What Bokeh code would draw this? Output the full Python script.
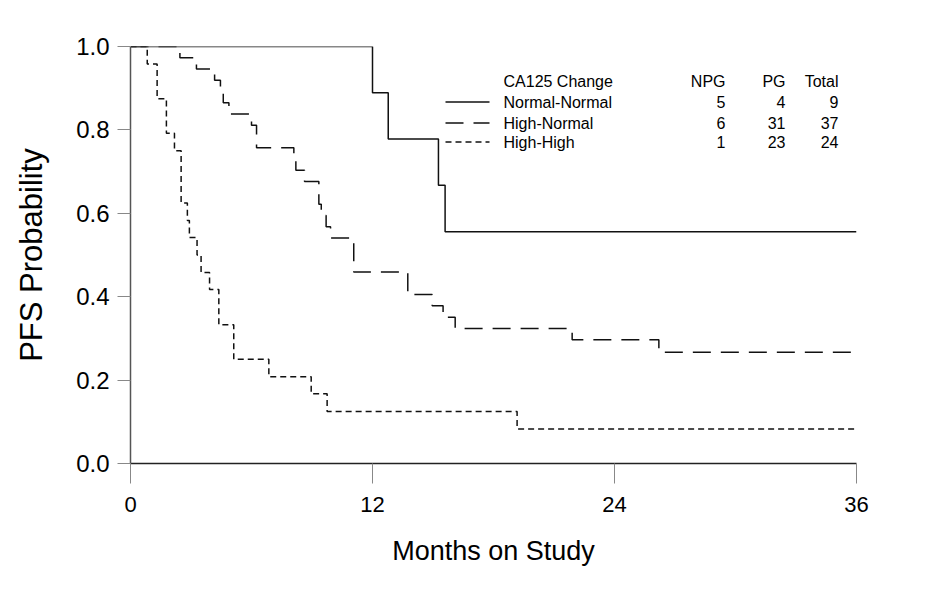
from bokeh.plotting import figure
from bokeh.models import Range1d, FixedTicker
from bokeh.core.properties import value
from bokeh.embed import file_html
from bokeh.resources import INLINE

# ---- data (Kaplan-Meier step curves) ----
nn_time = [0.0, 12.0, 12.78, 15.27, 15.6]
nn_surv = [1.0, 0.889, 0.778, 0.667, 0.556]

hn_time = [0.0, 2.45, 3.27, 4.17, 4.46, 4.6, 4.88, 6.0, 6.25, 8.1, 8.2, 8.63,
           9.34, 9.46, 9.7, 9.92, 11.07, 13.75, 14.96, 15.5, 16.1, 21.9, 26.2]
hn_surv = [1.0, 0.973, 0.946, 0.919, 0.892, 0.865, 0.838, 0.811, 0.757, 0.730,
           0.703, 0.676, 0.622, 0.595, 0.568, 0.541, 0.459, 0.405, 0.378, 0.351,
           0.324, 0.297, 0.267]

hh_time = [0.0, 0.83, 1.32, 1.78, 2.18, 2.51, 2.82, 2.92, 3.3, 3.5, 3.92, 4.38,
           5.12, 6.86, 8.96, 9.75, 19.17]
hh_surv = [1.0, 0.958, 0.875, 0.792, 0.750, 0.625, 0.583, 0.542, 0.500, 0.458,
           0.417, 0.333, 0.250, 0.208, 0.167, 0.125, 0.083]

end_time = 36

groups = ["Normal-Normal", "High-Normal", "High-High"]
npg = ["5", "6", "1"]
pg = ["4", "31", "23"]
total = ["9", "37", "24"]
header = ["CA125 Change", "NPG", "PG", "Total"]

x_ticks = [0, 12, 24, 36]
y_ticks = [0.0, 0.2, 0.4, 0.6, 0.8, 1.0]

# ---- layout ----
FL, FT, FW, FH = 130, 46, 726, 417   # frame in canvas px
W, H = 913, 584

p = figure(width=W, height=H, frame_width=FW, frame_height=FH,
           min_border_left=FL, min_border_top=FT,
           min_border_right=W - FL - FW, min_border_bottom=H - FT - FH,
           x_range=Range1d(0, end_time), y_range=Range1d(0, 1.0),
           output_backend="svg", toolbar_location=None)
p.outline_line_color = None
p.xgrid.visible = False
p.ygrid.visible = False
p.background_fill_color = "white"
p.border_fill_color = "white"

SANS = "Liberation Sans"

# axes
p.xaxis.ticker = FixedTicker(ticks=x_ticks)
p.xaxis.major_label_overrides = {t: str(t) for t in x_ticks}
p.xaxis.minor_tick_line_color = None
p.xaxis.major_tick_out = 20
p.xaxis.major_tick_in = 0
p.xaxis.major_tick_line_color = "#888888"
p.xaxis.axis_line_color = "#222222"
p.xaxis.axis_line_width = 1.5
p.xaxis.major_label_text_font = SANS
p.xaxis.major_label_text_font_size = "22px"
p.xaxis.major_label_text_color = "black"
p.xaxis.major_label_standoff = 13
p.xaxis.axis_label = "Months on Study"
p.xaxis.axis_label_text_font = SANS
p.xaxis.axis_label_text_font_size = "27px"
p.xaxis.axis_label_text_font_style = "normal"
p.xaxis.axis_label_text_color = "black"
p.xaxis.axis_label_standoff = 21

p.yaxis.ticker = FixedTicker(ticks=y_ticks)
p.yaxis.major_label_overrides = {t: f"{t:.1f}" for t in y_ticks}
p.yaxis.minor_tick_line_color = None
p.yaxis.major_tick_out = 13
p.yaxis.major_tick_in = 0
p.yaxis.major_tick_line_color = "#888888"
p.yaxis.axis_line_color = "#555555"
p.yaxis.axis_line_width = 1.5
p.yaxis.major_label_text_font = SANS
p.yaxis.major_label_text_font_size = "24px"
p.yaxis.major_label_text_color = "black"
p.yaxis.major_label_standoff = 8
p.yaxis.axis_label = "PFS Probability"
p.yaxis.axis_label_text_font = SANS
p.yaxis.axis_label_text_font_size = "31px"
p.yaxis.axis_label_text_font_style = "normal"
p.yaxis.axis_label_text_color = "black"
p.yaxis.axis_label_standoff = 24

# ---- curves ----
LC = "#111111"
LW = 1.5
styles = ["solid", "18 10", "6 4"]
curves = [(nn_time, nn_surv), (hn_time, hn_surv), (hh_time, hh_surv)]
for (t, s), dash in zip(curves, styles):
    p.step(x=t + [end_time], y=s + [s[-1]], mode="after",
           line_color=LC, line_width=LW, line_dash=dash)

# ---- pixel -> data helpers for legend placement ----
def dx(px):
    return (px - FL) * end_time / FW

def dy(py):
    return (FT + FH - py) / FH

# ---- legend table ----
row_py = [101.5, 122.5, 141.5]
for py, dash in zip(row_py, styles):
    p.segment(x0=[dx(445)], y0=[dy(py)], x1=[dx(489)], y1=[dy(py)],
              line_color=LC, line_width=LW, line_dash=dash)

fs = "16px"
p.text(x=[dx(503)], y=[dy(81)], text=[header[0]], text_font=value(SANS),
       text_font_size=fs, text_align="left", text_baseline="middle", text_color="black")
col_right = [725, 785, 838]
for cx, h in zip(col_right, header[1:]):
    p.text(x=[dx(cx)], y=[dy(81)], text=[h], text_font=value(SANS),
           text_font_size=fs, text_align="right", text_baseline="middle", text_color="black")
p.text(x=[dx(503)] * 3, y=[dy(v) for v in row_py], text=groups, text_font=value(SANS),
       text_font_size=fs, text_align="left", text_baseline="middle", text_color="black")
for cx, col in zip(col_right, [npg, pg, total]):
    p.text(x=[dx(cx)] * 3, y=[dy(v) for v in row_py], text=col, text_font=value(SANS),
           text_font_size=fs, text_align="right", text_baseline="middle", text_color="black")

open("out.html", "w").write(file_html(p, INLINE))
